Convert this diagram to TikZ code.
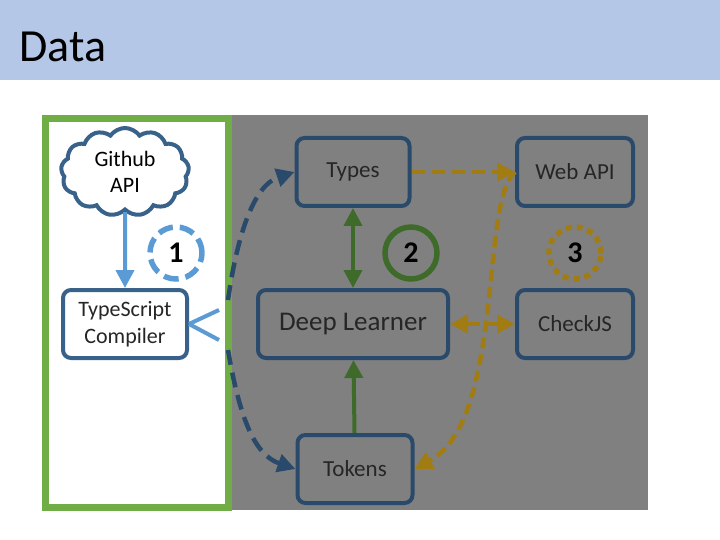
\documentclass[tikz,border=0pt]{standalone}
\usepackage{fontspec}
\setmainfont{Carlito}
\usetikzlibrary{arrows.meta,shapes.symbols}
\definecolor{hdrblue}{HTML}{B4C7E7}
\definecolor{panelgray}{HTML}{808080}
\definecolor{frgreen}{HTML}{70AD47}
\definecolor{ltblue}{HTML}{5B9BD5}
\definecolor{dkblue}{HTML}{2A4A6B}
\definecolor{dkgreen}{HTML}{3F6B2A}
\definecolor{gold}{HTML}{A07C12}
\begin{document}
\begin{tikzpicture}[x=1pt,y=-1pt,>={Triangle[length=18pt,width=18pt]},
  box/.style={draw=dkblue,line width=4pt,rounded corners=8pt,fill=panelgray,
    text=black!85,font=\fontsize{23}{27}\selectfont,align=center},
  wbox/.style={draw=dkblue!70!ltblue,line width=4pt,rounded corners=8pt,fill=white,
    text=black!85,font=\fontsize{23}{27}\selectfont,align=center},
  num/.style={circle,minimum size=52pt,line width=5.5pt,
    font=\bfseries\fontsize{30}{32}\selectfont}]

  \useasboundingbox (0,0) rectangle (720,540);
  \fill[white] (0,0) rectangle (720,540);
  \fill[hdrblue] (0,0) rectangle (720,80);
  \node[anchor=west,font=\fontsize{46}{50}\selectfont] (title) at (16,47) {Data};

  \fill[panelgray] (228,115) rectangle (648,510);
  \draw[frgreen,fill=white,line width=7pt] (45,119) rectangle (228,507);

  % left part
  \node[cloud,cloud puffs=13,cloud puff arc=110,aspect=1.5,draw=dkblue!70!ltblue,
    line width=4pt,fill=white,inner sep=1pt,align=center,minimum width=128pt,minimum height=88pt,
    font=\fontsize{22}{26}\selectfont] (gh) at (125,172) {Github\\API};
  \node[wbox,minimum width=124pt,minimum height=68pt,font=\fontsize{22}{27}\selectfont] (tsc) at (125,324) {TypeScript\\Compiler};
  \node[num,draw=ltblue,dash pattern=on 15pt off 7pt,text=black] (one) at (176,253) {1};
  \draw[ltblue,line width=4pt,->] (gh.south) -- (tsc.north);
  \draw[ltblue,line width=4pt] (tsc.east) -- ++(30,-14) (tsc.east) -- ++(30,16);

  % right part
  \node[box,minimum width=113pt,minimum height=68pt] (types) at (353,172) {Types};
  \node[box,minimum width=190pt,minimum height=68pt,font=\fontsize{27}{30}\selectfont] (dl) at (353,324) {Deep Learner};
  \node[box,minimum width=115pt,minimum height=68pt] (tok) at (355,469) {Tokens};
  \node[box,minimum width=116pt,minimum height=68pt] (web) at (575,172) {Web API};
  \node[box,minimum width=116pt,minimum height=68pt] (cjs) at (575,324) {CheckJS};
  \node[num,draw=dkgreen] (two) at (411,253) {2};
  \node[num,draw=gold,dash pattern=on 6pt off 5pt] (three) at (575,253) {3};

  \draw[dkgreen,line width=4pt,<->] (types) -- (dl);
  \draw[dkgreen,line width=4pt,->] (tok) -- (dl);
  \draw[gold,line width=4.5pt,dash pattern=on 13pt off 7pt,->] (types) -- (web);
  \draw[gold,line width=4.5pt,dash pattern=on 13pt off 7pt,<->] (dl) -- (cjs);
  \draw[gold,line width=4.5pt,dash pattern=on 11pt off 6pt,->]
    (web.west) .. controls (480,200) and (505,420) .. (tok.east);
  \draw[dkblue,line width=4.5pt,dash pattern=on 15pt off 8pt,->]
    (228,300) .. controls (238,230) and (255,185) .. (types.west);
  \draw[dkblue,line width=4.5pt,dash pattern=on 15pt off 8pt,->]
    (228,350) .. controls (240,420) and (255,455) .. (tok.west);
\end{tikzpicture}
\end{document}
